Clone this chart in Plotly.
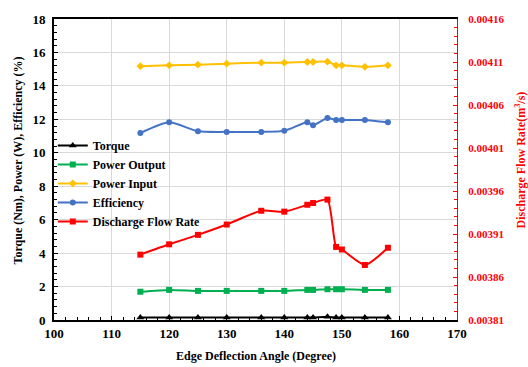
import plotly.graph_objects as go

angle = [115, 120, 125, 130, 136, 140, 144, 145, 147.5, 149, 150, 154, 158]
torque = [0.15, 0.15, 0.15, 0.15, 0.15, 0.15, 0.15, 0.15, 0.2, 0.15, 0.15, 0.15, 0.15]
power_output = [1.69, 1.80, 1.74, 1.74, 1.74, 1.74, 1.80, 1.80, 1.84, 1.84, 1.84, 1.80, 1.80]
power_input = [15.18, 15.23, 15.27, 15.33, 15.39, 15.39, 15.43, 15.43, 15.45, 15.23, 15.23, 15.14, 15.23]
efficiency = [11.18, 11.82, 11.29, 11.25, 11.25, 11.31, 11.82, 11.65, 12.08, 11.96, 11.96, 11.96, 11.82]
discharge = [0.003886, 0.003898, 0.003909, 0.003921, 0.003937, 0.003936, 0.003944, 0.003946, 0.003950,
             0.003895, 0.003892, 0.003874, 0.003894]

FONT = "Liberation Serif"
RED = "#FF0000"

fig = go.Figure()

def add(name, y, color, symbol, msize, yaxis="y"):
    fig.add_trace(go.Scatter(
        x=angle, y=y, name=name, mode="lines+markers", yaxis=yaxis,
        line=dict(color=color, width=2, shape="spline", smoothing=0.6),
        marker=dict(color=color, symbol=symbol, size=msize),
    ))

add("Torque", torque, "#000000", "triangle-up", 7)
add("Power Output", power_output, "#00B050", "square", 6)
add("Power Input", power_input, "#FFC000", "diamond", 6)
add("Efficiency", efficiency, "#4472C4", "circle", 6)
add("Discharge Flow Rate", discharge, RED, "square", 6, yaxis="y2")

fig.update_layout(
    width=528, height=367,
    margin=dict(l=54, r=71, t=14, b=47),
    paper_bgcolor="white", plot_bgcolor="white",
    font=dict(family=FONT, size=12, color="black"),
    showlegend=True,
    legend=dict(
        x=-0.003, y=0.628, xanchor="left", yanchor="top",
        bgcolor="rgba(0,0,0,0)",
        font=dict(family=FONT, size=12, color="black", weight="bold"),
        itemwidth=30, tracegroupgap=0,
    ),
    xaxis=dict(
        range=[100, 170], dtick=10, tick0=100,
        showline=True, linecolor="black", linewidth=2, mirror=True,
        showgrid=True, gridcolor="#D9D9D9", gridwidth=1,
        ticks="inside", ticklen=4, tickcolor="black",
        minor=dict(dtick=2, ticks="inside", ticklen=3, tickcolor="black", showgrid=False),
        tickfont=dict(family=FONT, size=13, color="black", weight="bold"),
        zeroline=False,
    ),
    yaxis=dict(
        range=[0, 18], dtick=2, tick0=0,
        showline=True, linecolor="black", linewidth=2,
        showgrid=True, gridcolor="#D9D9D9", gridwidth=1,
        ticks="inside", ticklen=4, tickcolor="black",
        minor=dict(dtick=0.4, ticks="inside", ticklen=3, tickcolor="black", showgrid=False),
        tickfont=dict(family=FONT, size=13, color="black", weight="bold"),
        zeroline=False,
        ticklabelstandoff=4,
    ),
    yaxis2=dict(
        overlaying="y", side="right",
        range=[0.00381, 0.00416], dtick=0.00005, tick0=0.00381,
        tickformat=".5f",
        showline=True, linecolor=RED, linewidth=1,
        showgrid=False, zeroline=False,
        ticks="inside", ticklen=4, tickcolor=RED,
        minor=dict(dtick=0.00001, ticks="inside", ticklen=3, tickcolor=RED, showgrid=False),
        tickfont=dict(family=FONT, size=11, color=RED, weight="bold"),
        ticklabelstandoff=8,
    ),
)

fig.add_annotation(
    text="Edge Deflection Angle (Degree)", xref="paper", yref="paper",
    x=0.5, y=-0.118, yanchor="middle", showarrow=False,
    font=dict(family=FONT, size=12, color="black", weight="bold"),
)
fig.add_annotation(
    text="Torque (Nm), Power (W), Efficiency (%)", xref="paper", yref="paper",
    x=-36 / 403, y=0.53, xanchor="center", yanchor="middle", textangle=-90, showarrow=False,
    font=dict(family=FONT, size=12, color="black", weight="bold"),
)
fig.add_annotation(
    text="Discharge Flow Rate(m<sup>3</sup>/s)", xref="paper", yref="paper",
    x=(520 - 54) / 403, y=0.53, xanchor="center", yanchor="middle", textangle=-90, showarrow=False,
    font=dict(family=FONT, size=12, color=RED, weight="bold"),
)

fig.write_html("out.html")
